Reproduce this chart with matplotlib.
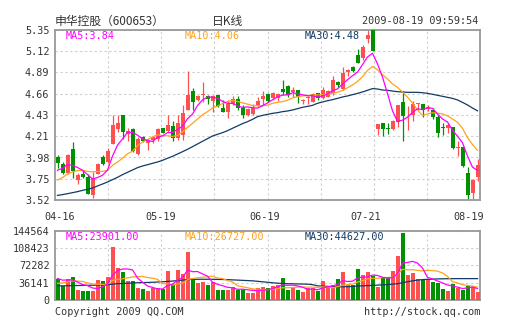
import numpy as np
import pandas as pd
import matplotlib
matplotlib.use('Agg')
import matplotlib.pyplot as plt

# daily k-line, 04-16 .. 08-19 (85 sessions)
opens = [3.98, 3.91, 3.81, 4.07, 3.735, 3.80, 3.77, 3.57, 3.80, 3.98,
         3.93, 4.12, 4.28, 4.43, 4.23, 4.28, 4.02, 4.20, 4.13, 4.17,
         4.18, 4.29, 4.26, 4.32, 4.19, 4.22, 4.49, 4.69, 4.60, 4.65,
         4.64, 4.59, 4.65, 4.51, 4.47, 4.55, 4.61, 4.51, 4.435, 4.45,
         4.54, 4.61, 4.66, 4.62, 4.62, 4.72, 4.75, 4.68, 4.70, 4.585,
         4.62, 4.58, 4.67, 4.62, 4.63, 4.67, 4.79, 4.72, 4.90, 4.955,
         5.08, 5.045, 5.25, 5.35, 4.28, 4.345, 4.30, 4.285, 4.36, 4.57,
         4.43, 4.44, 4.555, 4.55, 4.50, 4.49, 4.41, 4.302, 4.29, 4.31,
         4.076, 4.087, 3.807, 3.59, 3.77]
highs = [4.00, 3.93, 4.02, 4.14, 3.81, 3.84, 3.80, 3.82, 3.92, 4.00,
         4.08, 4.44, 4.44, 4.44, 4.29, 4.29, 4.20, 4.21, 4.18, 4.21,
         4.30, 4.30, 4.44, 4.37, 4.44, 4.54, 4.91, 4.73, 4.65, 4.79,
         4.65, 4.65, 4.65, 4.60, 4.60, 4.64, 4.64, 4.54, 4.51, 4.55,
         4.63, 4.69, 4.67, 4.68, 4.67, 4.81, 4.76, 4.74, 4.70, 4.61,
         4.64, 4.67, 4.67, 4.74, 4.70, 4.85, 4.80, 4.955, 4.93, 4.96,
         5.15, 5.19, 5.35, 5.35, 4.34, 4.345, 4.35, 4.38, 4.54, 4.69,
         4.53, 4.59, 4.56, 4.55, 4.54, 4.51, 4.435, 4.35, 4.345, 4.31,
         4.15, 4.094, 3.87, 3.75, 3.96]
lows = [3.86, 3.80, 3.80, 3.76, 3.69, 3.76, 3.58, 3.54, 3.80, 3.90,
        3.92, 4.12, 4.25, 4.18, 4.15, 4.04, 4.00, 4.14, 4.06, 4.13,
        4.16, 4.24, 4.25, 4.15, 4.17, 4.17, 4.49, 4.49, 4.59, 4.57,
        4.55, 4.47, 4.52, 4.47, 4.40, 4.54, 4.49, 4.40, 4.42, 4.44,
        4.53, 4.54, 4.58, 4.60, 4.59, 4.65, 4.63, 4.63, 4.56, 4.55,
        4.55, 4.58, 4.60, 4.61, 4.63, 4.65, 4.74, 4.70, 4.85, 4.90,
        4.99, 5.03, 5.21, 5.12, 4.22, 4.21, 4.23, 4.27, 4.31, 4.15,
        4.27, 4.37, 4.49, 4.41, 4.48, 4.39, 4.20, 4.22, 4.24, 4.07,
        3.99, 3.88, 3.52, 3.52, 3.72]
closes = [3.92, 3.81, 4.00, 3.83, 3.79, 3.77, 3.58, 3.76, 3.91, 3.91,
          4.05, 4.33, 4.35, 4.25, 4.26, 4.05, 4.18, 4.15, 4.17, 4.20,
          4.28, 4.245, 4.33, 4.185, 4.35, 4.46, 4.65, 4.58, 4.64, 4.66,
          4.61, 4.64, 4.53, 4.47, 4.55, 4.61, 4.51, 4.44, 4.50, 4.51,
          4.585, 4.64, 4.585, 4.675, 4.66, 4.686, 4.65, 4.70, 4.63, 4.597,
          4.632, 4.66, 4.62, 4.70, 4.69, 4.81, 4.76, 4.89, 4.92, 4.91,
          5.00, 5.17, 5.30, 5.12, 4.34, 4.285, 4.285, 4.37, 4.54, 4.42,
          4.44, 4.55, 4.56, 4.49, 4.525, 4.41, 4.245, 4.29, 4.33, 4.08,
          4.09, 3.89, 3.574, 3.735, 3.90]
volumes = [44000, 30000, 43800, 48000, 21000, 18800, 18800, 18800, 41700, 40000,
           48000, 110000, 66500, 58700, 40000, 39000, 25300, 22900, 18800, 25000,
           24300, 23500, 60500, 33000, 62600, 55000, 100500, 44000, 35000, 38000,
           31300, 38200, 20900, 20900, 20900, 27000, 21900, 21900, 14600, 14600,
           25000, 26400, 25000, 29000, 31000, 46600, 20900, 27800, 20900, 17400,
           24300, 24300, 19500, 39600, 29200, 31500, 43000, 58000, 31500, 32000,
           65000, 53000, 59000, 51000, 28000, 46000, 46000, 61000, 92000, 140000,
           53000, 57000, 43500, 41000, 41000, 37500, 36000, 22500, 19000, 33000,
           24000, 21000, 29500, 27500, 17500]

# sessions before 04-16 (only needed for the moving averages)
pre_closes = [3.55, 3.60, 3.62, 3.66, 3.72, 3.70, 3.80, 3.88, 3.90]
pre_volumes = [22000, 26000, 25000, 24000, 26000, 48000, 42000, 46000, 45000]

# 30 day averages
ma30 = [3.570, 3.578, 3.588, 3.599, 3.610, 3.624, 3.635, 3.649, 3.671, 3.692,
        3.714, 3.739, 3.764, 3.793, 3.818, 3.843, 3.868, 3.886, 3.900, 3.915,
        3.929, 3.947, 3.969, 3.990, 4.015, 4.040, 4.066, 4.094, 4.123, 4.152,
        4.180, 4.209, 4.227, 4.245, 4.266, 4.292, 4.317, 4.342, 4.363, 4.388,
        4.417, 4.431, 4.442, 4.453, 4.460, 4.471, 4.478, 4.489, 4.503, 4.518,
        4.528, 4.539, 4.561, 4.575, 4.589, 4.600, 4.614, 4.629, 4.640, 4.654,
        4.668, 4.683, 4.701, 4.719, 4.715, 4.704, 4.701, 4.693, 4.686, 4.683,
        4.679, 4.679, 4.679, 4.675, 4.668, 4.658, 4.647, 4.636, 4.625, 4.614,
        4.597, 4.571, 4.543, 4.510, 4.480]
vol_ma30 = [29500, 29600, 29800, 30000, 30200, 30400, 30600, 30800, 31000, 31500,
            32000, 33000, 34000, 34500, 35000, 35500, 36000, 36300, 36600, 37000,
            37500, 38000, 38800, 39500, 40500, 41500, 42500, 43000, 43200, 43300,
            43300, 43200, 43000, 42800, 42500, 42000, 41500, 41000, 40500, 40000,
            39000, 38000, 37000, 36000, 35000, 34500, 34000, 33800, 33500, 33300,
            33000, 32000, 29500, 29000, 28500, 28000, 27500, 27500, 27800, 28300,
            29000, 29500, 30000, 30500, 31000, 31500, 32000, 33000, 34000, 36000,
            38000, 40000, 41500, 42500, 43000, 43500, 44000, 44200, 44400, 44500,
            44600, 44600, 44600, 44600, 44627]

price_labels = ['3.52', '3.75', '3.98', '4.21', '4.43', '4.66', '4.89', '5.12', '5.35']
vol_labels = ['0', '36141', '72282', '108423', '144564']
date_labels = ['04-16', '05-19', '06-19', '07-21', '08-19']
price_legend = ['MA5:3.84', 'MA10:4.06', 'MA30:4.48']
vol_legend = ['MA5:23901.00', 'MA10:26727.00', 'MA30:44627.00']

RED = '#ff5050'
GREEN = '#009000'
C5 = '#ff00ff'
C10 = '#ffa31a'
C30 = '#123a66'
MONO = 'DejaVu Sans Mono'

o = np.array(opens); h = np.array(highs); l = np.array(lows); c = np.array(closes)
v = np.array(volumes)
x = np.arange(len(c))
up = c >= o
col = np.where(up, RED, GREEN)

cs = pd.Series(pre_closes + closes)
ma5 = cs.rolling(5).mean().values[len(pre_closes):]
ma10 = cs.rolling(10).mean().values[len(pre_closes):]
vs = pd.Series(pre_volumes + volumes)
vma5 = vs.rolling(5).mean().values[len(pre_volumes):]
vma10 = vs.rolling(10).mean().values[len(pre_volumes):]

fig = plt.figure(figsize=(5.05, 3.30), dpi=100)
ax = fig.add_axes([55/505, 130/330, 425/505, 170/330])
axv = fig.add_axes([55/505, 30/330, 425/505, 69.3/330])

for a in (ax, axv):
    a.set_xlim(-0.5, len(c) - 0.5)
    a.set_xticks([-0.5 + len(c) * k / 8 for k in range(1, 8)])
    a.set_xticklabels([])
    a.grid(True, color='#d0d0d0', linestyle=(0, (2.2, 2.2)), linewidth=0.8)
    a.set_axisbelow(True)
    a.tick_params(length=0, labelsize=7.3, colors='#333333', pad=4)
    for s in a.spines.values():
        s.set_color('#999999')
        s.set_linewidth(1.3)

# price panel
ax.set_ylim(3.52, 5.35)
ax.set_yticks(np.linspace(3.52, 5.35, len(price_labels)))
ax.set_yticklabels(price_labels, fontfamily=MONO)
ax.vlines(x, l, h, colors=col, linewidth=0.9, zorder=2)
ax.bar(x, np.maximum(np.abs(c - o), 0.009), bottom=np.minimum(o, c), width=0.8,
       color=col, linewidth=0, zorder=3)
ax.plot(x, ma30, color=C30, linewidth=0.9, zorder=4)
ax.plot(x, ma10, color=C10, linewidth=0.9, zorder=4)
ax.plot(x, ma5, color=C5, linewidth=0.9, zorder=4)

for xpos, lab, cc in zip([0.024, 0.306, 0.588], price_legend, [C5, C10, C30]):
    ax.text(xpos, 0.965, lab, color=cc, transform=ax.transAxes,
            fontsize=7.3, fontfamily=MONO, va='center')

# date labels between the panels
for pos, lab in zip([0.5, 20.7, 41.5, 61.7, 82.3], date_labels):
    ax.text(pos, -0.098, lab, transform=ax.get_xaxis_transform(), ha='center',
            va='center', fontsize=7.3, fontfamily=MONO, color='#333333')

# volume panel
axv.set_ylim(0, 144564)
axv.set_yticks([0, 36141, 72282, 108423, 144564])
axv.set_yticklabels(vol_labels, fontfamily=MONO)
axv.bar(x, v, width=0.8, color=col, linewidth=0, zorder=3)
axv.plot(x, vol_ma30, color=C30, linewidth=0.9, zorder=4)
axv.plot(x, vma10, color=C10, linewidth=0.9, zorder=4)
axv.plot(x, vma5, color=C5, linewidth=0.9, zorder=4)

for xpos, lab, cc in zip([0.024, 0.306, 0.588], vol_legend, [C5, C10, C30]):
    axv.text(xpos, 0.913, lab, color=cc, transform=axv.transAxes,
             fontsize=7.3, fontfamily=MONO, va='center')

# header / footer
fig.text(55/505, 1 - 21/330, '申华控股（600653）', fontsize=8.5, color='#333333',
         family=['Noto Sans CJK SC', 'DejaVu Sans'], va='center', ha='left')
fig.text(228/505, 1 - 21/330, '日K线', fontsize=8.5, color='#333333',
         family=['Noto Sans CJK SC', 'DejaVu Sans'], va='center', ha='center')
fig.text(478/505, 1 - 21/330, '2009-08-19 09:59:54', fontsize=7.3, color='#333333',
         fontfamily=MONO, va='center', ha='right')
fig.text(55/505, 1 - 312/330, 'Copyright 2009 QQ.COM', fontsize=7.3, color='#333333',
         fontfamily=MONO, va='center', ha='left')
fig.text(480/505, 1 - 312/330, 'http://stock.qq.com', fontsize=7.3, color='#333333',
         fontfamily=MONO, va='center', ha='right')

fig.savefig('out.png', dpi=100, facecolor='white')
